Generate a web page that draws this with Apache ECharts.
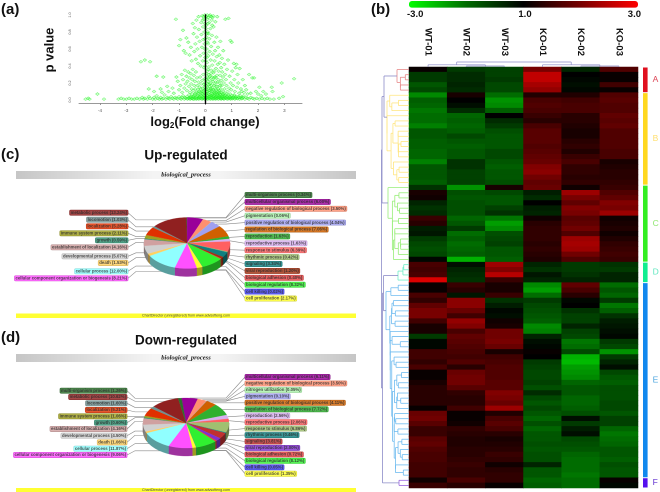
<!DOCTYPE html>
<html><head><meta charset="utf-8">
<style>html,body{margin:0;padding:0;background:#fff}#c{width:660px;height:492px}</style>
<script src="https://cdn.jsdelivr.net/npm/echarts@6/dist/echarts.min.js"></script>
</head><body><div id="c"></div>
<script>
// ---------- DATA ----------
const volcanoTicksX=[-4,-3,-2,-1,0,1,2,3];
const volcanoTicksY=[0,0.2,0.4,0.6,0.8,1];
const volcanoPoints=[
[-4.55,.01],[-4.45,.02],[-4.4,.01],[-4.1,.07],[-3.85,.01],[-3.3,.01],[-3.2,.02],[-3.1,.01],[-3,.01],[-2.9,.02],[-2.8,.01],[-2.7,.01],[-2.6,.02],[-2.5,.01],[-2.4,.03],[-2.35,.01],[-2.3,.02],[-2.2,.01],[-2.15,.04],[-2.1,.02],[-2,.01],[-1.95,.03],[-1.9,.01],[-1.85,.05],[-1.8,.02],[-1.75,.01],[-1.7,.03],[-1.65,.01],[-1.6,.02],[-1.55,.06],[-1.5,.01],[-1.45,.03],[-1.4,.02],[-1.35,.01],[-1.3,.04],[-1.25,.02],[-1.2,.01],[-1.15,.03],[-1.1,.02],[-1.05,.01],[-1,.04],[-.95,.02],[-.92,.01],[-.88,.03],[-.85,.05],[-.8,.01],[-.78,.03],[-.74,.02],[-.7,.04],[-.68,.01],[-.65,.02],[-.62,.06],[-.6,.03],[-.57,.01],[-.55,.04],[-.52,.02],[-.5,.07],[-.47,.01],[-.45,.03],[-.42,.05],[-.4,.02],[-.38,.08],[-.35,.01],[-.33,.04],[-.3,.02],[-.28,.06],[-.25,.01],[-.23,.03],[-.2,.05],[-.18,.02],[-.15,.08],[-.12,.01],[-.1,.04],[-.08,.02],[-.05,.06],[-.03,.01],[.03,.02],[.05,.05],[.08,.01],[.1,.03],[.12,.07],[.15,.02],[.18,.04],[.2,.01],[.22,.06],[.25,.03],[.28,.01],[.3,.05],[.33,.02],[.35,.08],[.38,.01],[.4,.03],[.43,.06],[.45,.02],[.48,.04],[.5,.01],[.53,.03],[.55,.07],[.58,.02],[.6,.01],[.63,.04],[.65,.02],[.68,.06],[.7,.01],[.73,.03],[.76,.02],[.8,.05],[.83,.01],[.86,.03],[.9,.02],[.93,.04],[.96,.01],[1,.03],[1.04,.02],[1.08,.05],[1.12,.01],[1.16,.03],[1.2,.02],[1.25,.04],[1.3,.01],[1.35,.03],[1.4,.02],[1.45,.05],[1.5,.01],[1.55,.03],[1.6,.02],[1.66,.01],[1.72,.03],[1.8,.02],[1.86,.01],[1.95,.02],[2.05,.01],[2.15,.02],[2.25,.01],[2.35,.02],[2.45,.01],[2.6,.01],[2.8,.02],[2.95,.04],
[-2.45,.45],[-2.3,.47],[-2.1,.45],[-1.85,.28],[-1.6,.27],[-2.15,.13],[-1.95,.1],[-1.7,.13],[-1.65,.09],[-1.45,.16],[-1.4,.1],[-1.25,.14],[-1.2,.08],[-1.1,.27],[-1.05,.22],[-1,.12],[-.95,.17],[-.9,.3],[-.88,.09],[-.85,.24],[-.8,.14],[-.78,.35],[-.75,.19],[-.72,.28],[-.7,.11],[-.68,.22],[-.65,.33],[-.62,.16],[-.6,.26],[-.58,.09],[-.56,.31],[-.54,.19],[-.52,.13],[-.5,.24],[-.48,.36],[-.46,.11],[-.44,.29],[-.42,.17],[-.4,.22],[-.38,.13],[-.36,.33],[-.34,.09],[-.32,.26],[-.3,.17],[-.28,.12],[-.26,.21],[-.24,.1],[-.22,.15],[-.2,.27],[-.18,.13],[-.16,.19],[-.14,.1],[-.12,.23],[-.1,.14],[-.08,.3],[-.06,.11],[-.04,.18],[-.02,.25],
[-1.12,.95],[-1,.64],[-.95,.71],[-.85,.82],[-.82,.58],[-.75,.55],[-.72,.73],[-.65,.68],[-.6,.53],[-.55,.62],[-.52,.46],[-.48,.9],[-.45,.78],[-.42,.57],[-.4,.85],[-.38,.66],[-.36,.48],[-.34,.94],[-.32,.74],[-.3,.6],[-.28,.43],[-.26,.98],[-.25,.83],[-.22,.69],[-.2,.52],[-.18,.4],[-.16,.91],[-.15,.77],[-.13,.62],[-.12,.99],[-.1,.46],[-.09,.86],[-.08,.71],[-.07,.55],[-.06,.95],[-.05,.38],[-.04,.8],[-.03,.66],[-.02,1],[-.01,.5],
[.02,.98],[.03,.88],[.04,.74],[.05,.6],[.06,.44],[.07,.34],[.08,.95],[.09,.8],[.1,.66],[.11,.52],[.12,.26],[.13,.39],[.14,.91],[.15,.72],[.16,.57],[.17,.19],[.18,1],[.19,.84],[.2,.47],[.21,.31],[.22,.63],[.23,.13],[.24,.94],[.25,.76],[.26,.41],[.27,.24],[.28,.54],[.3,.99],[.31,.86],[.32,.34],[.33,.17],[.34,.68],[.35,.46],[.36,.27],[.37,.58],[.38,.92],[.39,.21],[.4,.37],[.41,.12],[.42,.74],[.43,.51],[.44,.29],[.45,.98],[.46,.16],[.47,.42],[.48,.62],[.49,.24],[.5,.34],[.52,.11],[.53,.53],[.54,.2],[.55,.44],[.56,.29],[.57,.69],[.58,.13],[.6,.38],[.61,.23],[.62,.17],[.63,.49],[.64,.33],[.66,.1],[.67,.27],[.68,.58],[.7,.2],[.72,.42],[.73,.13],[.75,.3],[.76,.95],[.78,.24],[.8,.17],[.82,.36],[.84,.1],[.86,.47],[.88,.96],[.9,.14],[.92,.28],[.95,.7],[.96,.2],[.98,.12],[1,.68],[1.02,.34],[1.05,.17],[1.08,.43],[1.1,.24],[1.12,.1],[1.15,.38],[1.18,.42],[1.2,.15],[1.22,.3],[1.25,.2],[1.28,.08],[1.3,.37],[1.35,.13],[1.38,.1],[1.42,.24],[1.46,.09],[1.5,.17],[1.55,.12],[1.6,.07],[1.66,.3],[1.72,.08],[1.78,.26],[1.85,.26],[1.92,.1],[2,.07],[2.05,.15],[2.12,.05],[2.2,.1],[2.3,.07],[2.52,.15],[2.55,.1],[2.9,.2],[3.37,.25],
[-.6,.015],[-.56,.03],[-.5,.02],[-.46,.045],[-.43,.01],[-.4,.06],[-.36,.025],[-.32,.015],[-.29,.05],[-.27,.08],[-.24,.02],[-.21,.04],[-.19,.09],[-.16,.015],[-.14,.05],[-.11,.07],[-.09,.02],[-.07,.1],[-.06,.03],[-.04,.05],[-.02,.08],[-.01,.015],[.01,.04],[.02,.07],[.04,.02],[.06,.1],[.07,.03],[.09,.05],[.11,.015],[.13,.09],[.14,.04],[.16,.06],[.17,.015],[.19,.11],[.21,.03],[.23,.05],[.24,.08],[.26,.02],[.27,.06],[.29,.04],[.31,.1],[.32,.015],[.34,.05],[.36,.03],[.37,.07],[.39,.02],[.41,.09],[.42,.04],[.44,.015],[.46,.06],[.47,.1],[.49,.03],[.51,.05],[.52,.08],[.54,.02],[.56,.04],[.57,.06],[.59,.015],[.61,.09],[.62,.03],[.64,.05],[.66,.07],[.67,.02],[.69,.04],[.71,.08],[.72,.015],[.74,.05],[.77,.03],[.79,.07],[.81,.02],[.84,.04],[.87,.06],[.89,.015],[.92,.03],[.94,.07],[.97,.02],[1.01,.05],[1.03,.015],[1.06,.03],[1.1,.06],[1.14,.02],[1.18,.04],[1.23,.015],[1.28,.03],[1.33,.05],[1.38,.015],[1.43,.03],[-.03,.15],[-.02,.2],[-.01,.12],[.01,.17],[.02,.24],[.03,.13],[.04,.31],[.05,.2],[.06,.15],[.07,.27],[.08,.1],[.09,.22],[.1,.36],[.11,.14],[.12,.18],[.13,.3],[.14,.11],[.15,.24],[.16,.16],[.18,.28],[.19,.13],[.2,.2],[.22,.35],[.23,.17],[.24,.1],[.25,.27],[.27,.14],[.28,.22],[.3,.12],[.31,.32],[.33,.26],[.34,.09],[.36,.19],[.38,.13],[.4,.26],[.42,.16],[.44,.08],[.47,.21],[.5,.13],[.53,.09],[.56,.17],[-.01,.4],[.01,.46],[.03,.55],[.05,.5],[-.02,.6],[.08,.68],[.06,.78],[-.01,.72],[.02,.84],[-.02,.9],[.1,.9],[.12,.78],[.15,.99],[.22,.98],[.26,.88],[.07,1],[.11,.97],[-.07,.98],[-.1,.94],[.27,.97]
];
const colNames=['WT-01','WT-02','WT-03','KO-01','KO-02','KO-03'];
const colorTicks=['-3.0','1.0','3.0'];
const heatRows=[
[0.1,-.8,-.9,1.5,-.5,1.0],[-.8,-.6,-.9,2.3,0,.1],[-.8,-.6,-.8,2.3,-.1,.1],[-1.2,-.5,-1,2,-.2,.8],[-1,-.6,-1,1.8,-.1,.1],
[-1.8,.3,-1.5,.4,.4,1],[-1.3,0,-1.9,.9,.8,1.1],[-1.4,-.2,-1.8,1,.9,1],[-1.6,-.6,-1.3,.9,.9,1],[-1.5,-1.4,0,.7,.5,1.2],[-1.5,-1.3,-.6,.5,.5,1.1],[-1.7,-1.4,-.8,.9,.4,1.2],[-1.2,-1.3,-1.1,1.1,.3,1],[-1.2,-1,-1.2,1.1,.3,1],[-1.3,-1.2,-1.2,1.1,.5,1],[-1.3,-1.3,-1.2,1,.6,1],[-1.4,-1.2,-1,1.1,.4,.9],[-1.4,-1.2,-1,1.2,.7,.9],[-1.7,-.7,-1.2,1.3,.9,.3],[-1.2,-.7,-1.3,1.6,.6,.4],[-1.2,-.9,-1.2,1.7,.6,.5],[-1.2,-.9,-1.2,1.4,.5,.5],[-1.3,-.9,-1.1,1.2,.6,.6],
[-.7,-1.9,.3,1.3,.2,.7],[.3,-1.1,-1,-.4,1.9,1],[.2,-1.2,-1.2,-.6,1.5,1.2],[-.5,-1.1,-1.2,0,1.2,1.6],[-.7,-1.1,-.9,-.4,1.6,1.5],[-.6,-1.1,-.7,-.5,1.5,1.9],[.7,-1.4,-1.6,.2,1.1,.2],[.5,-1.2,-2,.5,1.2,.3],[-.4,-.8,-1.8,.6,1.4,.4],[-.3,-1.5,-1.1,.6,1,.2],[-.8,-1.3,-1,.6,1.9,.4],[-1,-1.5,-.9,.5,2,.6],[-1.1,-1.4,-1.2,.6,1.9,.7],[-1,-1.3,-1.2,.5,1.4,.8],[-.1,-2.2,-1.3,.4,1,.7],
[.9,-.2,1.9,-.5,-.8,-.7],[.8,-.5,1.6,-.7,-.8,-.8],[.9,-.6,2.2,-.3,-.7,-.5],[2.6,-.7,.7,-.5,-.5,-.5],
[.1,.7,.3,-1.8,1.2,-1.5],[.1,.5,.3,-2,.9,-1.2],[.9,-.3,.7,-1.5,.5,-1.4],[.6,1.7,-.7,-.8,-.1,-.8],[1.2,1.7,-.4,-1,0,-1.6],[1.5,1.3,-.1,-1.1,-.7,-1.3],[1.5,.8,-.2,-1.2,-.9,-.7],[.8,1.8,.2,-1.3,-.9,-.4],[.3,1.6,.3,-1.8,-.5,-.3],[.3,.9,1.4,-1.7,-.9,-.2],[-.8,1.2,1.4,-.5,-1,-.1],[-.1,1.1,1.5,-.2,-1.6,-.8],[-.1,1,1.3,-.1,-1.5,-1],[.8,.9,.3,.1,-1,-1.9],[.8,.8,.8,0,-2.2,-.8],[.6,1,.9,-.8,-2.3,-.5],[.9,.5,1,-.9,-2,-.2],[.1,1.3,1,-1,-1.9,-1],[.1,1.4,1,-1,-1.8,-1.2],[.3,1.4,1.1,-.9,-1.4,-1.3],[.5,1.1,1.1,-1.1,-1.2,-1.1],[.5,.6,1.6,-.6,-1.2,-1.1],[.5,.5,1.5,-1,-1.4,-1.1],[.5,.5,1.3,-1.2,-1.4,-1],[.1,.8,1.9,-1,-1.3,-1],[1.3,.1,.4,-1.2,-1.1,-1.2],[1.4,.1,.9,-1.4,-.2,-.9],[1.1,.2,1.1,-1.1,-.8,-.9],[.7,.6,.9,-1.4,-.4,-1.4],[.7,.5,.5,-1.2,-.2,-1.6],[1.1,.4,.3,-1.2,-1,-1.5],[1.2,.4,.4,-1.1,-1.1,-1.4],[1,.5,.5,-1.2,-1.2,-1.2],[.9,.5,.7,-1.1,-1.4,-1.2],[.9,.6,.6,-1.1,-1.5,-1.3],[.8,.7,.2,-.5,-1.5,-1.1],[.8,.6,.5,-1.2,-1.5,-1.2],[.8,.6,.6,-1.2,-1.6,-1.2],
[.2,.9,.6,-1.4,-1.5,.1],[.7,.5,.1,-1.3,-1.5,-.1]
];
const clusterNames=['A','B','C','D','E','F'];
const clusterSizes=[5,18,15,4,38,2];
const clusterRootHeights=[12,22,21,11,23,10];
const clusterBarColors=['#e0101f','#ffd81f','#33ee22','#10ee90','#1188ee','#5510ee'];
const clusterLineColors=['#e88a8a','#ffe680','#98ee78','#70eec8','#70bcf0','#9a64e0'];
const clusterTextColors=['#dd4455','#ffe070','#90e870','#60e8c0','#50a8e0','#6030d0'];
const treeColor='#8c8cc8';
const clusterTree={h:27.5,kids:[{h:27,kids:[{h:25,kids:[0,1]},2]},{h:26.5,kids:[{h:25.5,kids:[3,4]},5]}]};
const columnTree={h:5,kids:[{h:2.2,kids:[0,{h:1,kids:[1,2]}]},{h:2.2,kids:[3,{h:1,kids:[4,5]}]}]};

const upNames=['multi-organism process','multicellular organismal process','negative regulation of biological process','pigmentation','positive regulation of biological process','regulation of biological process','reproduction','reproductive process','response to stimulus','rhythmic process','signaling','viral reproduction','biological adhesion','biological regulation','cell killing','cell proliferation','cellular component organization or biogenesis','cellular process','death','developmental process','establishment of localization','growth','immune system process','localization','locomotion','metabolic process'];
const upValues=[.34,6,3.5,.06,4.04,7.06,1.63,1.63,6.39,.42,3.34,1.2,.4,8.32,.02,2.17,8.21,12,1.53,5.07,4.16,.59,2.11,5.28,1.03,13.24];
const upColors=['#2c6e2c','#990099','#ff9070','#a8f0a8','#a0a0f0','#d06000','#30b030','#d8b0f0','#ff6060','#a0c070','#108080','#a03010','#e04040','#30f030','#4040f0','#ffff30','#ff50ff','#90ffff','#ffd060','#d0d0d0','#d0a0a0','#309070','#a0a020','#e03000','#709090','#902020'];
const downNames=['multicellular organismal process','negative regulation of biological process','nitrogen utilization','pigmentation','positive regulation of biological process','regulation of biological process','reproduction','reproductive process','response to stimulus','rhythmic process','signaling','viral reproduction','biological adhesion','biological regulation','cell killing','cell proliferation','cellular component organization or biogenesis','cellular process','death','developmental process','establishment of localization','growth','immune system process','localization','locomotion','metabolic process','multi-organism process'];
const downValues=[6.11,3.5,.05,.1,4.11,7.72,2.56,2.06,6.86,.46,3.81,2,.72,8.12,.05,1.35,9.06,11.87,1.06,4.5,4.16,.6,1.06,5.21,1.6,10.62,1.26];
const downColors=['#990099','#ff9070','#a8f0a8','#a0a0f0','#d06000','#30b030','#d8b0f0','#ff6060','#a0c070','#108080','#c03030','#8030d0','#e04040','#30f030','#4040f0','#ffff30','#ff50ff','#90ffff','#ffd060','#d0d0d0','#d0a0a0','#309070','#a0a020','#e03000','#709090','#902020','#2c6e2c'];

// ---------- LAYOUT ----------
const FF='"Liberation Sans",Arial,sans-serif';
const heatTop=67, heatH=421, heatL=409, heatW=229;
const upLayout={cx:187,cy:243,rx:43,ry:25.5,depth:8,start:-1,rightN:16,rightX:245,rightY0:195,rightStep:6.9,rightElbow:226,leftX:128,leftElbow:136,leftY:[278.3,271.3,263,256.3,247.3,240.3,233.3,226.3,219.7,212.7]};
const downLayout={cx:186,cy:423,rx:43,ry:25,depth:8,start:-6,rightN:16,rightX:245,rightY0:377,rightStep:6.45,rightElbow:226,leftX:127,leftElbow:135,leftY:[455,448.7,442.3,435.7,429,422.7,416.3,410,403.3,397,390.7]};

// ---------- COMPUTED STRUCTURE ----------
function darken(c,f){const n=parseInt(c.slice(1),16);return 'rgb('+[(n>>16)&255,(n>>8)&255,n&255].map(v=>Math.round(v*f)).join(',')+')';}
function dist(a,b){let s=0;for(let i=0;i<a.length;i++)s+=(a[i]-b[i])*(a[i]-b[i]);return Math.sqrt(s);}
const rowSegs=[], barData=[];
const clusterRoots=[];
(function(){
  let offset=0;
  clusterSizes.forEach((size,ci)=>{
    let nodes=[];
    for(let i=0;i<size;i++) nodes.push({y:offset+i,h:0,v:heatRows[offset+i],n:1,segs:[]});
    while(nodes.length>1){
      let best=0,bd=Infinity;
      for(let i=0;i<nodes.length-1;i++){const d=dist(nodes[i].v,nodes[i+1].v);if(d<bd){bd=d;best=i;}}
      const a=nodes[best],b=nodes[best+1],h=Math.max(bd,a.h,b.h);
      const m={y:(a.y+b.y)/2,h:h,n:a.n+b.n,v:a.v.map((x,k)=>(x*a.n+b.v[k]*b.n)/(a.n+b.n)),
        segs:a.segs.concat(b.segs,[[a.h,a.y,h,a.y],[b.h,b.y,h,b.y],[h,a.y,h,b.y]])};
      nodes.splice(best,2,m);
    }
    const root=nodes[0];
    root.segs.forEach(s=>rowSegs.push([Math.sqrt(s[0]/(root.h||1))*clusterRootHeights[ci],s[1],Math.sqrt(s[2]/(root.h||1))*clusterRootHeights[ci],s[3],ci]));
    clusterRoots.push({h:clusterRootHeights[ci],y:root.y});
    barData.push([offset-0.5,offset+size-0.5,ci]);
    offset+=size;
  });
  (function walk(t){
    if(typeof t==='number') return clusterRoots[t];
    const k=t.kids.map(walk);
    k.forEach(c=>rowSegs.push([c.h,c.y,t.h,c.y,-1]));
    rowSegs.push([t.h,k[0].y,t.h,k[1].y,-1]);
    return {h:t.h,y:(k[0].y+k[1].y)/2};
  })(clusterTree);
})();
const colSegs=[];
(function walk(t){
  if(typeof t==='number') return {x:t,h:0};
  const k=t.kids.map(walk);
  k.forEach(c=>colSegs.push([c.x,c.h,c.x,t.h]));
  colSegs.push([k[0].x,t.h,k[1].x,t.h]);
  return {x:(k[0].x+k[1].x)/2,h:t.h};
})(columnTree);

const heatData=[];
heatRows.forEach((r,y)=>r.forEach((v,x)=>heatData.push([x,y,v])));

function pieSeries(names,values,colors,L){
  const total=values.reduce((a,b)=>a+b,0);
  const pt=(deg,dy)=>{const t=deg*Math.PI/180;return [L.cx+L.rx*Math.sin(t),L.cy-L.ry*Math.cos(t)+(dy||0)];};
  const starts=[];let acc=L.start;
  values.forEach(v=>{starts.push(acc);acc+=v/total*360;});
  return {type:'custom',coordinateSystem:'none',silent:true,animation:false,z:5,
    data:values.map((v,i)=>[v,i]),
    renderItem:function(params,api){
      const i=api.value(1),v=api.value(0);
      const a0=starts[i],a1=a0+v/total*360,mid=(a0+a1)/2;
      const kids=[];
      const steps=Math.max(2,Math.ceil((a1-a0)/3));
      const top=[[L.cx,L.cy]];
      for(let s=0;s<=steps;s++) top.push(pt(a0+(a1-a0)*s/steps));
      const lo=Math.max(a0,90),hi=Math.min(a1,270);
      if(hi>lo){
        const side=[];const n=Math.max(2,Math.ceil((hi-lo)/3));
        for(let s=0;s<=n;s++) side.push(pt(lo+(hi-lo)*s/n));
        for(let s=n;s>=0;s--) side.push(pt(lo+(hi-lo)*s/n,L.depth));
        kids.push({type:'polygon',z2:10,shape:{points:side},style:{fill:darken(colors[i],0.62),stroke:darken(colors[i],0.62),lineWidth:.3}});
      }
      kids.push({type:'polygon',z2:20,shape:{points:top},style:{fill:colors[i],stroke:colors[i],lineWidth:.25}});
      const isRight=i<L.rightN;
      const ly=isRight?L.rightY0+i*L.rightStep:L.leftY[i-L.rightN];
      const lx=isRight?L.rightX:L.leftX, ex=isRight?L.rightElbow:L.leftElbow;
      const an=pt(mid,(mid>95&&mid<265)?3:0);
      kids.push({type:'polyline',z2:5,shape:{points:[[lx,ly],[ex,an[1]],an]},style:{fill:null,stroke:'#8a8a8a',lineWidth:.6}});
      kids.push({type:'text',z2:30,style:{x:lx,y:ly,text:names[i]+' ('+v.toFixed(2)+'%)',align:isRight?'left':'right',verticalAlign:'middle',
        font:'bold 4.3px '+FF,fill:'#2a2a2a',backgroundColor:colors[i],borderColor:darken(colors[i],.8),borderWidth:.4,borderRadius:1.2,padding:[.7,1,.4,1],opacity:.82}});
      return {type:'group',children:kids};
    }};
}
function bandGraphics(y,yy){
  return [
   {type:'rect',shape:{x:16,y:y,width:340,height:8},style:{fill:new echarts.graphic.LinearGradient(0,0,1,0,[{offset:0,color:'#c6c6c6'},{offset:.4,color:'#f4f4f4'},{offset:.6,color:'#f4f4f4'},{offset:1,color:'#c6c6c6'}])},silent:true},
   {type:'text',x:186,y:y+4,style:{text:'biological_process',font:'italic bold 6.5px "Liberation Serif",serif',fill:'#222',align:'center',verticalAlign:'middle'},silent:true},
   {type:'rect',shape:{x:16,y:yy,width:340,height:4.5},style:{fill:'#ffff33'},silent:true},
   {type:'text',x:186,y:yy+2.2,style:{text:'ChartDirector (unregistered) from www.advsofteng.com',font:'3.6px '+FF,fill:'#444',align:'center',verticalAlign:'middle'},silent:true}
  ];
}
function txt(x,y,text,font,extra){return Object.assign({type:'text',x:x,y:y,silent:true,style:Object.assign({text:text,font:font,fill:'#111',align:'left',verticalAlign:'middle'},extra||{})});}
const hide={show:false};
const option={
  animation:false,backgroundColor:'#fff',
  grid:[
    {left:79,top:15,width:223,height:88.4},
    {left:heatL,top:heatTop,width:heatW,height:heatH},
    {left:380,top:heatTop,width:29,height:heatH},
    {left:heatL,top:60,width:heatW,height:7},
    {left:643,top:heatTop,width:4.6,height:heatH}
  ],
  xAxis:[
    {gridIndex:0,type:'value',min:-4.8,max:3.67,splitLine:hide,axisLine:{onZero:false,lineStyle:{color:'#999',width:1}},
      axisTick:{show:true,length:1.5,lineStyle:{color:'#888'},customValues:volcanoTicksX},
      axisLabel:{fontSize:4.5,color:'#555',margin:5,fontFamily:FF,customValues:volcanoTicksX,showMinLabel:true,showMaxLabel:true}},
    {gridIndex:1,type:'category',data:colNames,position:'top',axisLine:hide,axisTick:hide,splitLine:hide,
      axisLabel:{rotate:90,margin:11,fontSize:9.5,fontWeight:'bold',color:'#111',fontFamily:FF}},
    {gridIndex:2,type:'value',min:0,max:29,inverse:true,show:false},
    {gridIndex:3,type:'value',min:-.5,max:5.5,show:false},
    {gridIndex:4,type:'value',min:0,max:1,show:false}
  ],
  yAxis:[
    {gridIndex:0,type:'value',min:-.04,max:1,splitLine:hide,axisLine:{onZero:true,lineStyle:{color:'#000',width:1.4}},
      axisTick:hide,z:3,
      axisLabel:{fontSize:3.8,color:'#555',margin:7,rotate:90,fontFamily:FF,customValues:volcanoTicksY,formatter:v=>v.toFixed(1)}},
    {gridIndex:1,type:'category',data:heatRows.map((r,i)=>String(i)),inverse:true,show:false},
    {gridIndex:2,type:'value',min:-.5,max:heatRows.length-.5,inverse:true,show:false},
    {gridIndex:3,type:'value',min:0,max:7,show:false},
    {gridIndex:4,type:'value',min:-.5,max:heatRows.length-.5,inverse:true,show:false}
  ],
  visualMap:{type:'continuous',seriesIndex:1,min:-3,max:3,orient:'horizontal',left:heatL,top:1,itemWidth:6.7,itemHeight:heatW,text:null,showLabel:false,calculable:false,realtime:false,hoverLink:false,
    inRange:{color:['#00ff00','#006c00','#000000','#780000','#ff0000']},textStyle:{fontSize:0},padding:0},
  series:[
    {type:'scatter',xAxisIndex:0,yAxisIndex:0,data:volcanoPoints,symbol:'diamond',symbolSize:[3.8,3],silent:true,
      itemStyle:{color:'rgba(90,255,90,.35)',borderColor:'rgba(20,240,20,.75)',borderWidth:.45},z:2},
    {type:'heatmap',xAxisIndex:1,yAxisIndex:1,data:heatData,silent:true,itemStyle:{borderWidth:0},z:2},
    {type:'custom',xAxisIndex:2,yAxisIndex:2,data:rowSegs,silent:true,clip:false,z:3,
      renderItem:(p,api)=>{const a=api.coord([api.value(0),api.value(1)]),b=api.coord([api.value(2),api.value(3)]),c=api.value(4);
        return {type:'line',shape:{x1:a[0],y1:a[1],x2:b[0],y2:b[1]},style:{stroke:c<0?treeColor:clusterLineColors[c],lineWidth:.8}};}},
    {type:'custom',xAxisIndex:3,yAxisIndex:3,data:colSegs,silent:true,clip:false,z:3,
      renderItem:(p,api)=>{const a=api.coord([api.value(0),api.value(1)]),b=api.coord([api.value(2),api.value(3)]);
        return {type:'line',shape:{x1:a[0],y1:a[1],x2:b[0],y2:b[1]},style:{stroke:treeColor,lineWidth:.7}};}},
    {type:'custom',xAxisIndex:4,yAxisIndex:4,data:barData,silent:true,clip:false,z:3,
      renderItem:(p,api)=>{const a=api.coord([0,api.value(0)]),b=api.coord([1,api.value(1)]),c=api.value(2);
        return {type:'group',children:[
          {type:'rect',shape:{x:a[0],y:a[1]+.5,width:b[0]-a[0],height:b[1]-a[1]-1},style:{fill:clusterBarColors[c]}},
          {type:'text',style:{x:b[0]+5,y:(a[1]+b[1])/2,text:clusterNames[c],align:'left',verticalAlign:'middle',font:'8.5px '+FF,fill:clusterTextColors[c]}}
        ]};}},
    pieSeries(upNames,upValues,upColors,upLayout),
    pieSeries(downNames,downValues,downColors,downLayout)
  ],
  graphic:{elements:[].concat(
    bandGraphics(171,313.5),bandGraphics(354,488),
    [
     txt(1,10,'(a)','bold 15px '+FF),txt(371,10,'(b)','bold 15px '+FF),txt(1,155,'(c)','bold 15px '+FF),txt(1,338,'(d)','bold 15px '+FF),
     Object.assign(txt(50,50,'p value','bold 13px '+FF,{align:'center'}),{rotation:Math.PI/2}),
     txt(205,122.5,'log{s|2}(Fold change)','bold 13px '+FF,{align:'center',rich:{s:{font:'bold 8px '+FF,verticalAlign:'bottom',padding:[7,0,0,0],fill:'#111'}}}),
     txt(186,156,'Up-regulated','bold 13.5px '+FF,{align:'center'}),
     txt(186,341,'Down-regulated','bold 13.5px '+FF,{align:'center'}),
     txt(407,14.5,colorTicks[0],'bold 9.5px '+FF),
     txt(525,14.5,colorTicks[1],'bold 9.5px '+FF,{align:'center'}),
     txt(641,14.5,colorTicks[2],'bold 9.5px '+FF,{align:'right'})
    ])}
};
const chart=echarts.init(document.getElementById('c'),null,{renderer:'canvas',width:660,height:492,devicePixelRatio:2});
chart.setOption(option);
</script></body></html>
